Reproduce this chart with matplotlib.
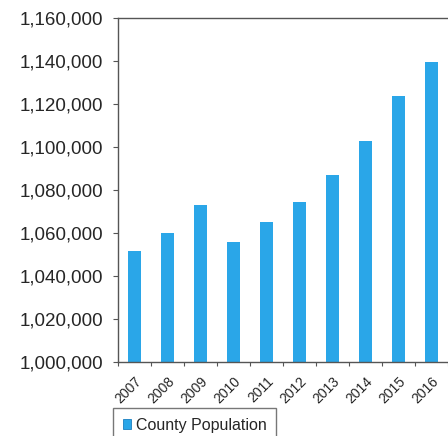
import matplotlib.pyplot as plt
from matplotlib.ticker import FuncFormatter
from matplotlib.patches import Patch

plt.rcParams["font.family"] = ["Liberation Sans", "DejaVu Sans"]

years = ["2007", "2008", "2009", "2010", "2011", "2012", "2013", "2014", "2015", "2016"]
population = [1051500, 1060200, 1073000, 1055800, 1065000, 1074300, 1086800, 1102600, 1123600, 1139500]
series_name = "County Population"

bar_color = "#2aa6e8"
text_color = "#262626"
line_color = "#555555"

fig = plt.figure(figsize=(4.48, 4.36), dpi=100)
ax = fig.add_axes([118 / 448, 1 - 362 / 436, 1 - 118 / 448, (362 - 18) / 436])

x = list(range(len(years)))
ax.bar(x, population, width=0.41, color=bar_color, zorder=2)

ax.set_ylim(1000000, 1160000)
ax.set_yticks(range(1000000, 1160001, 20000))
ax.yaxis.set_major_formatter(FuncFormatter(lambda v, _: f"{int(v):,}"))
ax.set_xlim(-0.5, 9.5)
ax.set_xticks(x)
ax.set_xticklabels(years, rotation=45, ha="right", rotation_mode="anchor", fontsize=10, color=text_color)
ax.set_xticks([i + 0.5 for i in range(-1, len(years))], minor=True)

ax.tick_params(axis="y", labelsize=13.5, labelcolor=text_color, length=3.6, width=0.8, color=line_color, pad=7)
ax.tick_params(axis="x", which="major", length=0, pad=9)
ax.tick_params(axis="x", which="minor", length=3, width=0.8, color=line_color)

for side in ["left", "top", "bottom"]:
    ax.spines[side].set_color(line_color)
    ax.spines[side].set_linewidth(1.0)
ax.spines["right"].set_visible(False)

handle = Patch(facecolor=bar_color, edgecolor="#1a7fc0", linewidth=0.6)
legend = fig.legend([handle], [series_name], loc="upper left", bbox_to_anchor=(113 / 448, 1 - 408 / 436),
                    fontsize=11.5, frameon=True, fancybox=False, edgecolor=line_color,
                    handlelength=0.55, handleheight=0.55, handletextpad=0.3, borderpad=0.6,
                    borderaxespad=0, labelcolor=text_color)
legend.get_frame().set_linewidth(1.0)

fig.savefig("out.png", dpi=100)
